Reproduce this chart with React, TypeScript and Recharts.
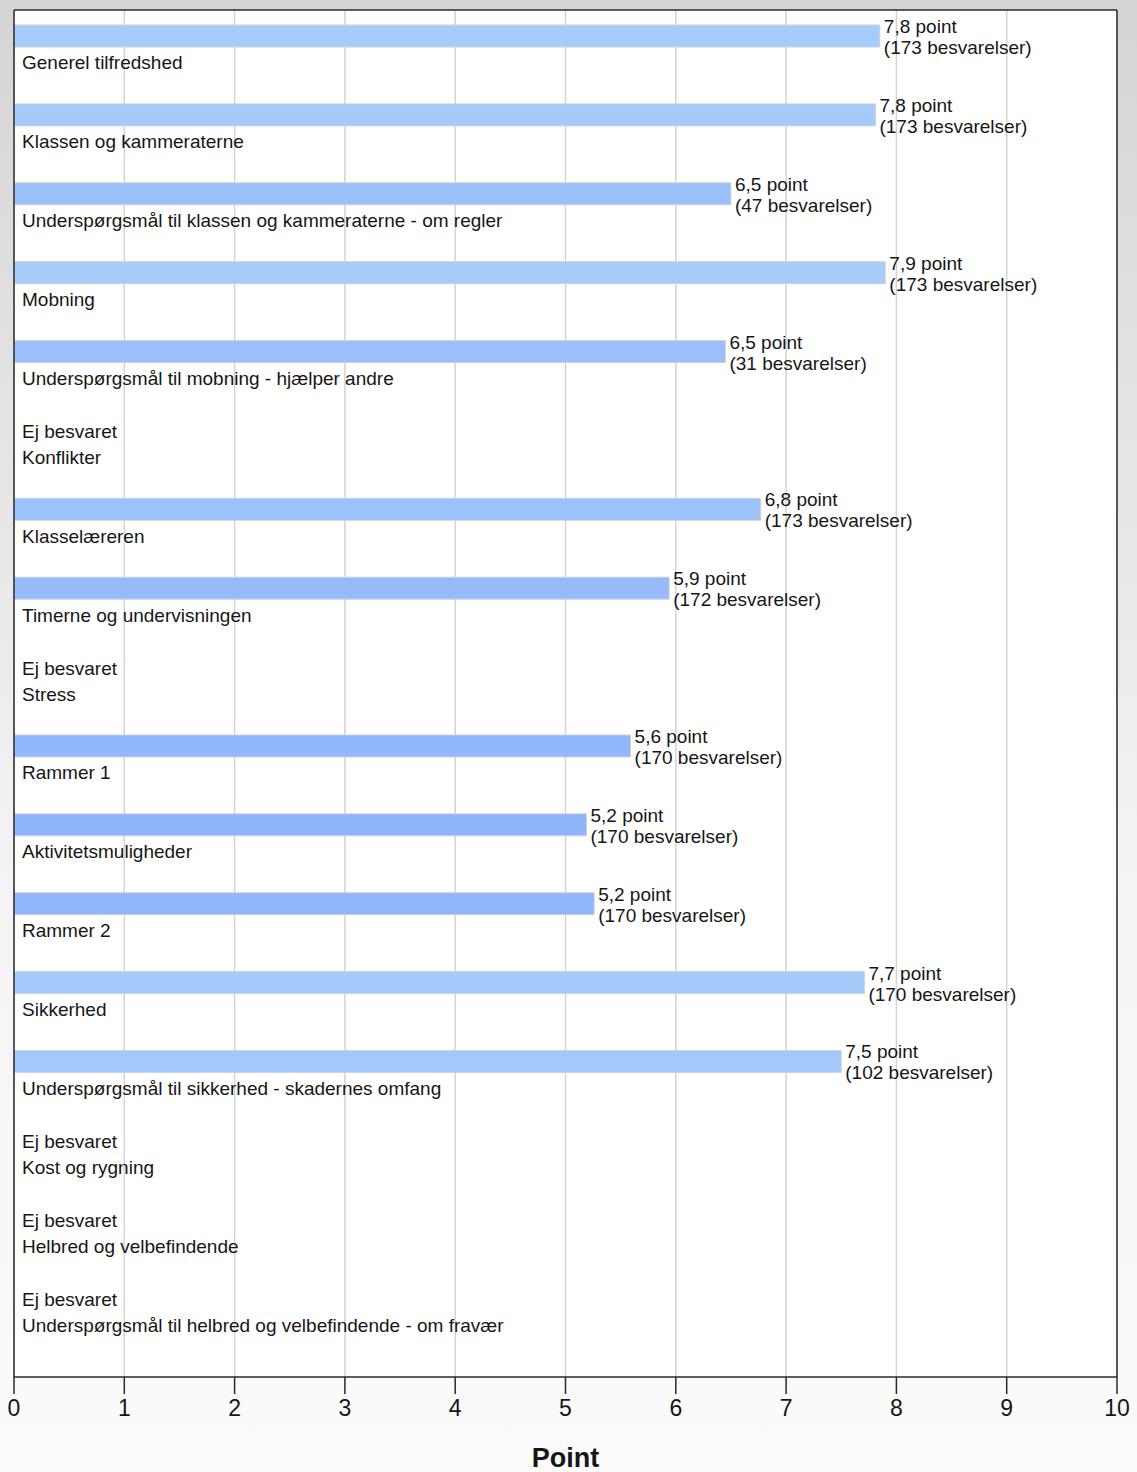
import React from "react";
import {
  BarChart,
  Bar,
  XAxis,
  YAxis,
  CartesianGrid,
  Cell,
  LabelList,
  Label,
} from "recharts";

const FONT = '"Liberation Sans", Arial, sans-serif';
const TEXT = "#161616";
const FRAME = "#2a2a2a";

const categories = [
  "Generel tilfredshed",
  "Klassen og kammeraterne",
  "Underspørgsmål til klassen og kammeraterne - om regler",
  "Mobning",
  "Underspørgsmål til mobning - hjælper andre",
  "Konflikter",
  "Klasselæreren",
  "Timerne og undervisningen",
  "Stress",
  "Rammer 1",
  "Aktivitetsmuligheder",
  "Rammer 2",
  "Sikkerhed",
  "Underspørgsmål til sikkerhed - skadernes omfang",
  "Kost og rygning",
  "Helbred og velbefindende",
  "Underspørgsmål til helbred og velbefindende - om fravær",
];

// bar lengths (null = not answered)
const pointValues = [
  7.85, 7.81, 6.5, 7.9, 6.45, null, 6.77, 5.94, null, 5.59, 5.19, 5.26, 7.71,
  7.5, null, null, null,
];

// the rounded values printed next to each bar
const pointLabels = [
  "7,8", "7,8", "6,5", "7,9", "6,5", null, "6,8", "5,9", null, "5,6", "5,2",
  "5,2", "7,7", "7,5", null, null, null,
];

const responses = [
  173, 173, 47, 173, 31, null, 173, 172, null, 170, 170, 170, 170, 102, null,
  null, null,
];

const xTicks = [0, 1, 2, 3, 4, 5, 6, 7, 8, 9, 10];

const rows = categories.map((name, i) => ({
  name,
  point: pointValues[i],
  pad: 0,
}));

// low scores get a slightly stronger blue
function barColor(v: number) {
  const t = Math.max(0, Math.min(1, (v - 5.2) / (7.9 - 5.2)));
  const lo = [143, 180, 250];
  const hi = [166, 204, 251];
  const c = lo.map((l, k) => Math.round(l + (hi[k] - l) * t));
  return `rgb(${c[0]},${c[1]},${c[2]})`;
}

function CategoryTick(props: any) {
  const { x, y, payload } = props;
  const i = categories.indexOf(payload.value);
  const missing = pointValues[i] == null;
  return (
    <g>
      {missing && (
        <text x={x + 8} y={y - 6} fontSize={19} fontFamily={FONT} fill={TEXT}>
          Ej besvaret
        </text>
      )}
      <text x={x + 8} y={y + 20} fontSize={19} fontFamily={FONT} fill={TEXT}>
        {payload.value}
      </text>
    </g>
  );
}

function ValueLabel(props: any) {
  const { x, y, width, height, value } = props;
  const i = categories.indexOf(value);
  if (i < 0 || pointValues[i] == null) return null;
  const lx = x + width + 4;
  const cy = y + height / 2;
  return (
    <g>
      <text x={lx} y={cy - 3} fontSize={19} fontFamily={FONT} fill={TEXT}>
        {pointLabels[i]} point
      </text>
      <text x={lx} y={cy + 18} fontSize={19} fontFamily={FONT} fill={TEXT}>
        ({responses[i]} besvarelser)
      </text>
    </g>
  );
}

export default function App() {
  return (
    <div
      style={{
        position: "absolute",
        left: 0,
        top: 0,
        width: 1137,
        height: 1472,
        background: "linear-gradient(#d5d5d5, #f4f4f4 60%, #fbfbfb)",
      }}
    >
      <BarChart
        width={1137}
        height={1472}
        data={rows}
        layout="vertical"
        barSize={22}
        barGap={4}
        margin={{ top: 9, right: 19, bottom: 0, left: 13 }}
      >
        <CartesianGrid
          horizontal={false}
          stroke="#d3d3d3"
          strokeWidth={1.5}
          fill="#ffffff"
          fillOpacity={1}
        />
        <XAxis
          type="number"
          domain={[0, 10]}
          ticks={xTicks}
          height={95}
          tickSize={17}
          tickMargin={6}
          interval={0}
          axisLine={{ stroke: FRAME, strokeWidth: 1.5 }}
          tickLine={{ stroke: FRAME, strokeWidth: 1.5 }}
          tick={{ fontSize: 23, fontFamily: FONT, fill: TEXT }}
        >
          <Label
            value="Point"
            position="insideBottom"
            offset={5}
            style={{ fontSize: 27, fontWeight: 700, fontFamily: FONT, fill: TEXT }}
          />
        </XAxis>
        <XAxis
          xAxisId="top"
          orientation="top"
          type="number"
          domain={[0, 10]}
          height={1}
          tick={false}
          tickLine={false}
          axisLine={{ stroke: FRAME, strokeWidth: 1.5 }}
        />
        <YAxis
          type="category"
          dataKey="name"
          width={1}
          padding={{ top: 0, bottom: 26 }}
          tickSize={0}
          tickMargin={0}
          tickLine={false}
          interval={0}
          axisLine={{ stroke: FRAME, strokeWidth: 1.5 }}
          tick={<CategoryTick />}
        />
        <YAxis
          yAxisId="right"
          orientation="right"
          type="category"
          dataKey="name"
          width={1}
          tick={false}
          tickLine={false}
          axisLine={{ stroke: FRAME, strokeWidth: 1.5 }}
        />
        <Bar
          dataKey="point"
          stroke="#cfd3da"
          strokeWidth={1}
          isAnimationActive={false}
        >
          {rows.map((r, i) => (
            <Cell key={i} fill={r.point == null ? "none" : barColor(r.point)} />
          ))}
          <LabelList dataKey="name" content={<ValueLabel />} />
        </Bar>
        <Bar
          dataKey="pad"
          fill="transparent"
          stroke="none"
          isAnimationActive={false}
        />
      </BarChart>
    </div>
  );
}
